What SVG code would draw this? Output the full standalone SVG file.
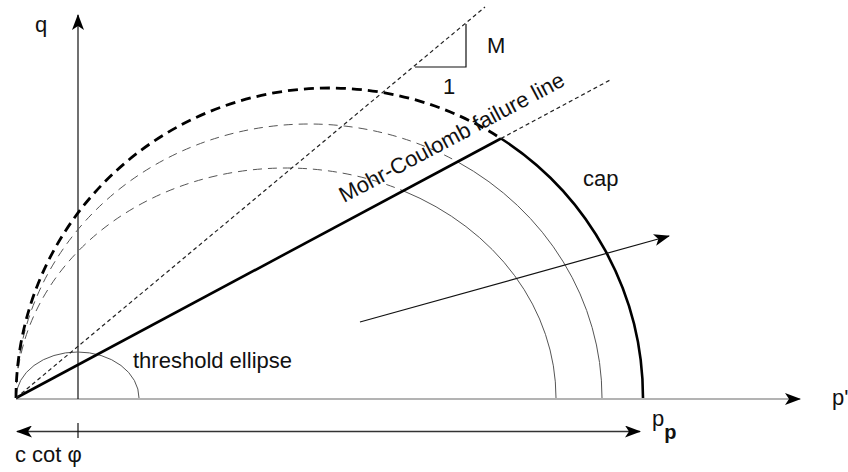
<svg xmlns="http://www.w3.org/2000/svg" width="848" height="472" viewBox="0 0 848 472">
<style>
  text { font-family: "Liberation Sans", Arial, sans-serif; font-size: 22px; fill: #111; }
  .thin { fill: none; stroke: #555; stroke-width: 1; }
  .thindash { fill: none; stroke: #555; stroke-width: 1; stroke-dasharray: 9 6; }
  .thick { fill: none; stroke: #000; stroke-width: 2.6; }
  .thickdash { fill: none; stroke: #000; stroke-width: 2.8; stroke-dasharray: 10 6; }
  .dot { fill: none; stroke: #222; stroke-width: 1.2; stroke-dasharray: 4 3; }
  .ln { fill: none; stroke: #111; stroke-width: 1.2; }
</style>
<defs>
  <marker id="ah" viewBox="0 0 16 12" refX="15" refY="6" markerWidth="16" markerHeight="12" markerUnits="userSpaceOnUse" orient="auto-start-reverse">
    <path d="M0,0 L16,6 L0,12 L4,6 z" fill="#000"/>
  </marker>
</defs>
<rect width="848" height="472" fill="#fff"/>

<g id="axes">
  <line x1="16" y1="399" x2="800" y2="399" stroke="#9a9a9a" stroke-width="1.5" marker-end="url(#ah)"/>
  <line x1="78" y1="399" x2="78" y2="15" class="ln" marker-end="url(#ah)"/>
  <text x="35" y="32">q</text>
  <text x="832" y="405">p'</text>
</g>

<g id="dimension">
  <line x1="17" y1="431.5" x2="640" y2="431.5" stroke="#333" stroke-width="1.3" marker-start="url(#ah)" marker-end="url(#ah)"/>
  <line x1="78" y1="423" x2="78" y2="438" class="ln"/>
  <text x="15" y="462">c cot φ</text>
  <text x="652" y="426">p<tspan font-weight="bold" font-size="20" dy="13">p</tspan></text>
</g>

<g id="threshold-ellipse">
  <path d="M16,398 A61.5,46 0 0 1 139,398" class="thin"/>
  <text x="133" y="368">threshold ellipse</text>
</g>

<g id="yield-surfaces">
  <path d="M16,398 A270,230 0 0 1 403.2,190.8" class="thindash"/>
  <path d="M403.2,190.8 A270,230 0 0 1 556,398" class="thin"/>
  <path d="M16,398 A293,274 0 0 1 457.5,161.8" class="thindash"/>
  <path d="M457.5,161.8 A293,274 0 0 1 602,398" class="thin"/>
  <path d="M16,398 A313.5,310 0 0 1 501,138.5" class="thickdash"/>
</g>

<g id="cap">
  <path d="M501,138.5 A313.5,310 0 0 1 643,398" class="thick"/>
  <text x="583" y="186">cap</text>
</g>

<g id="mohr-coulomb-line">
  <line x1="16" y1="398" x2="501" y2="138.5" class="thick"/>
  <line x1="501" y1="138.5" x2="612" y2="79" class="dot"/>
  <text transform="translate(344,203) rotate(-28)">Mohr-Coulomb failure line</text>
</g>

<g id="critical-state-line">
  <line x1="16" y1="398" x2="485" y2="7" class="dot"/>
  <polyline points="415,67 466,67 466,24" class="ln"/>
  <text x="487" y="53">M</text>
  <text x="443" y="94">1</text>
</g>

<g id="connectors">
  <line x1="360" y1="322" x2="669" y2="236" class="ln" marker-end="url(#ah)"/>
</g>
</svg>
